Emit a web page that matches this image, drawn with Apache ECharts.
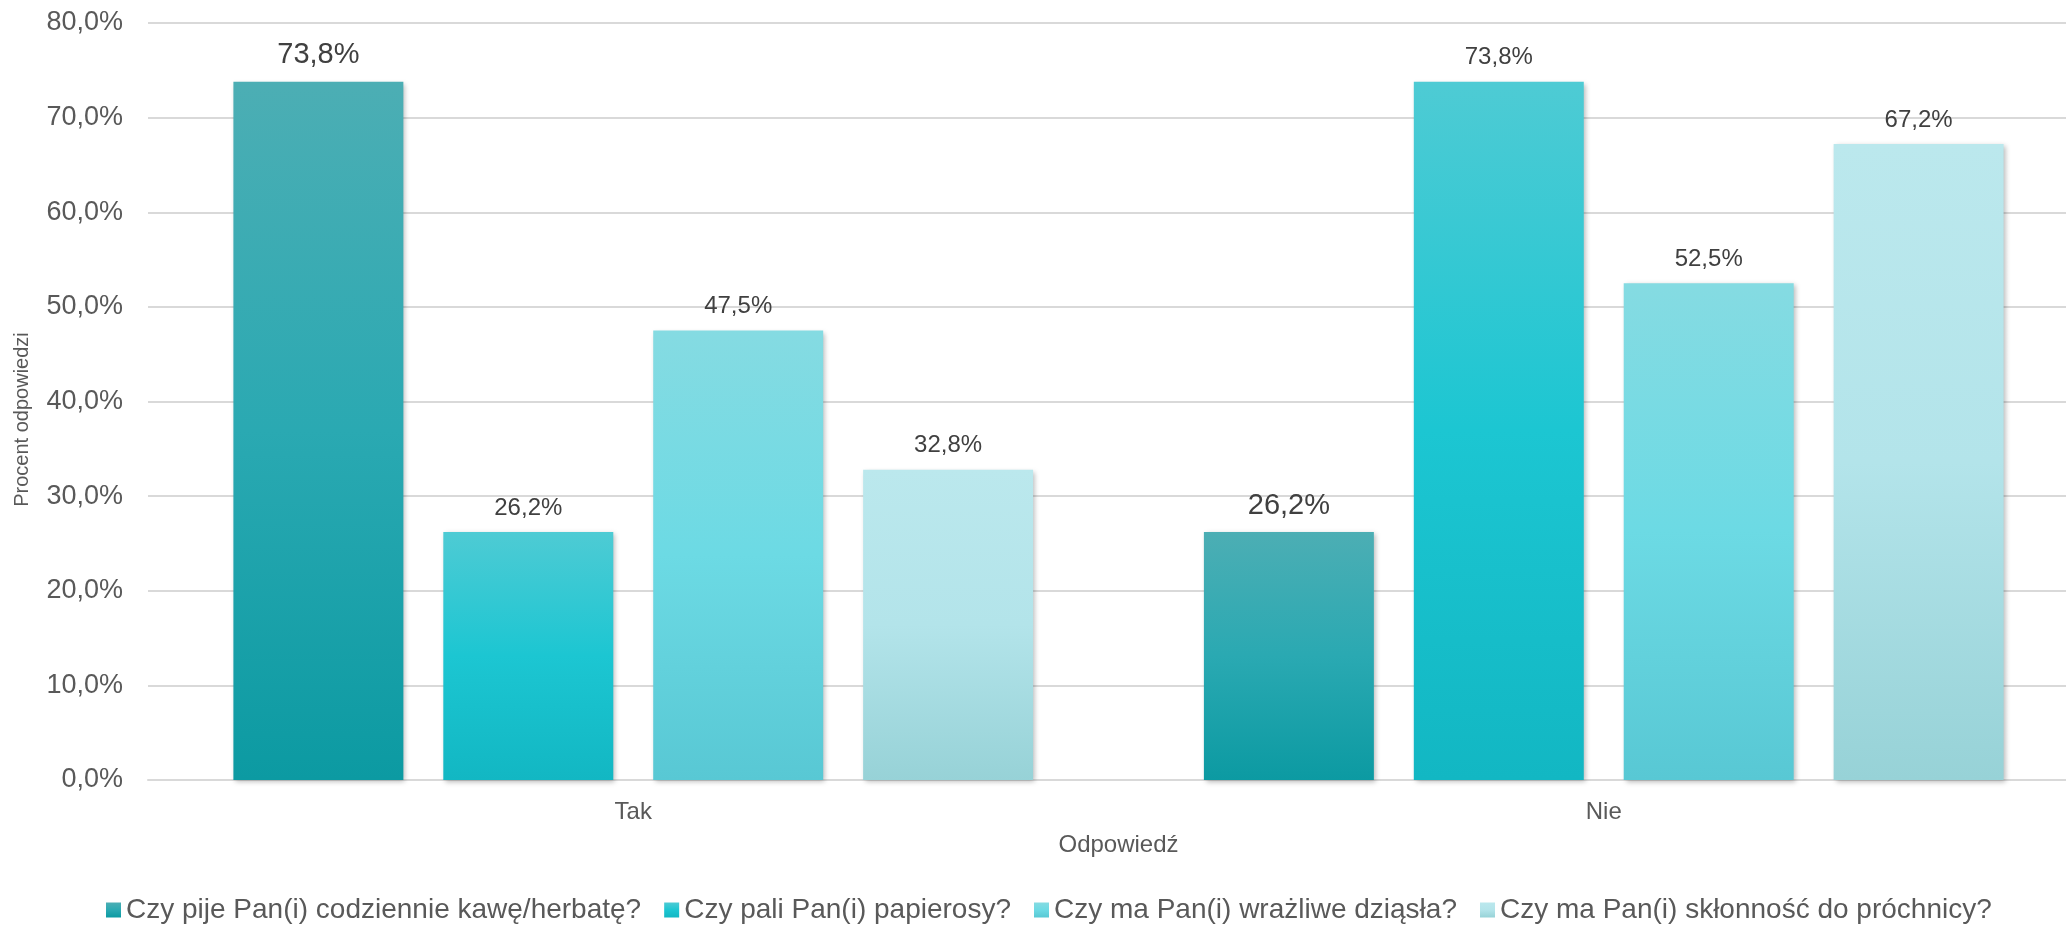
<!DOCTYPE html>
<html>
<head>
<meta charset="utf-8">
<script src="https://cdn.jsdelivr.net/npm/echarts@6/dist/echarts.min.js"></script>
<style>
  html, body { margin: 0; padding: 0; background: #ffffff; }
  #chart { width: 2066px; height: 928px; }
</style>
</head>
<body>
<div id="chart"></div>
<script>
// Answer categories on the x axis
const categories = ['Tak', 'Nie'];

// Survey questions (one series each)
const seriesNames = [
  'Czy pije Pan(i) codziennie kawę/herbatę?',
  'Czy pali Pan(i) papierosy?',
  'Czy ma Pan(i) wrażliwe dziąsła?',
  'Czy ma Pan(i) skłonność do próchnicy?'
];

// Percentage of answers per question, [Tak, Nie]
const coffeeTea = [73.8, 26.2];
const smoking = [26.2, 73.8];
const sensitiveGums = [47.5, 52.5];
const cariesProne = [32.8, 67.2];

// Y axis range
const yMin = 0;
const yMax = 80;
const yStep = 10;

const FONT = '"Liberation Sans", Arial, sans-serif';

// Vertical gradients (top -> middle -> bottom) for each question
const gradients = [
  ['#4caeb4', '#2aa9b2', '#0c9aa2'],
  ['#4ecbd4', '#1cc6d2', '#12b7c3'],
  ['#85dbe2', '#6cdae4', '#58c8d4'],
  ['#bbe8ed', '#b3e4ea', '#97d2d7']
];

function grad(stops) {
  return new echarts.graphic.LinearGradient(0, 0, 0, 1, [
    { offset: 0, color: stops[0] },
    { offset: 0.5, color: stops[1] },
    { offset: 1, color: stops[2] }
  ]);
}

const fmtPct = v => v.toFixed(1).replace('.', ',') + '%';

const seriesData = [coffeeTea, smoking, sensitiveGums, cariesProne];

const chart = echarts.init(document.getElementById('chart'), null, { renderer: 'canvas' });

chart.setOption({
  animation: false,
  backgroundColor: '#ffffff',
  textStyle: { fontFamily: FONT },
  // the plot area runs past the right edge of the canvas
  grid: { left: 148, top: 23, right: -23, bottom: 148, containLabel: false, outerBoundsMode: 'none' },
  legend: {
    data: seriesNames,
    left: 106,
    top: 896,
    padding: 0,
    itemWidth: 15,
    itemHeight: 15,
    itemGap: 23,
    icon: 'rect',
    textStyle: { fontFamily: FONT, fontSize: 28, color: '#595959' }
  },
  xAxis: {
    type: 'category',
    data: categories,
    name: 'Odpowiedź',
    nameLocation: 'middle',
    nameGap: 53,
    nameTextStyle: { fontFamily: FONT, fontSize: 24, color: '#595959' },
    axisLine: { show: true, lineStyle: { color: '#d9d9d9', width: 2 } },
    axisTick: { show: false },
    axisLabel: { fontFamily: FONT, fontSize: 24, color: '#595959', margin: 20 },
    splitLine: { show: false }
  },
  yAxis: {
    type: 'value',
    min: yMin,
    max: yMax,
    interval: yStep,
    name: 'Procent odpowiedzi',
    nameLocation: 'middle',
    nameGap: 116,
    nameRotate: 90,
    nameTextStyle: { fontFamily: FONT, fontSize: 20, color: '#595959', padding: [0, 36, 0, 0] },
    axisLine: { show: false },
    axisTick: { show: false },
    axisLabel: { fontFamily: FONT, fontSize: 27, color: '#595959', margin: 25, formatter: fmtPct },
    splitLine: { show: true, lineStyle: { color: '#d9d9d9', width: 2 } }
  },
  series: seriesNames.map((name, i) => ({
    name: name,
    type: 'bar',
    data: seriesData[i],
    barGap: '23.5%',
    barCategoryGap: '17.6%',
    itemStyle: {
      color: grad(gradients[i]),
      shadowColor: 'rgba(0,0,0,0.28)',
      shadowBlur: 5,
      shadowOffsetX: 2,
      shadowOffsetY: 2
    },
    label: {
      show: true,
      position: 'top',
      distance: 12,
      fontFamily: FONT,
      fontSize: i === 0 ? 29 : 24,
      color: '#404040',
      formatter: p => fmtPct(p.value)
    }
  }))
});
</script>
</body>
</html>
